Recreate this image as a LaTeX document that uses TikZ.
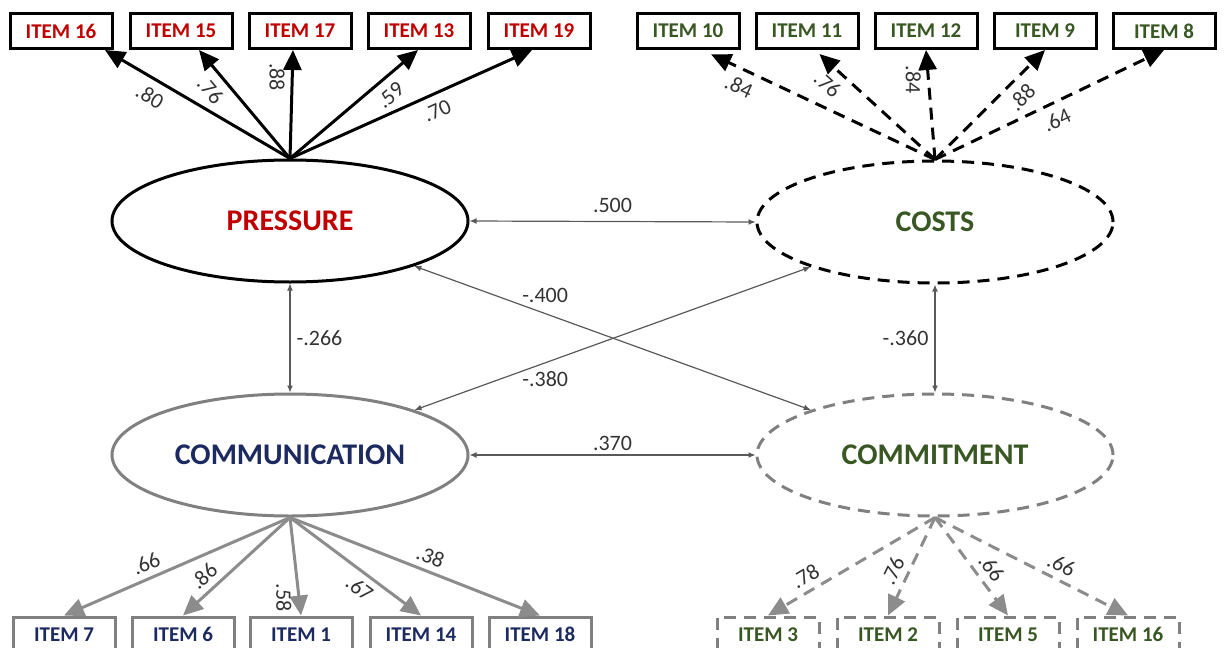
\documentclass[tikz,border=0pt]{standalone}
\usepackage{fontspec}
\setmainfont{Carlito}
\usepackage{tikz}
\usetikzlibrary{shapes.geometric}
\usetikzlibrary{arrows.meta}
\definecolor{presred}{RGB}{192,0,0}
\definecolor{costgreen}{RGB}{56,87,35}
\definecolor{commblue}{RGB}{28,42,96}
\definecolor{commgray}{RGB}{128,128,128}
\definecolor{arrowgray}{RGB}{140,140,140}

\begin{document}
\begin{tikzpicture}[x=0.5pt, y=-0.5pt,
    itembox/.style={draw, rectangle, line width=1.5pt, minimum width=51pt, minimum height=17.5pt, inner sep=0pt, font=\fontsize{10.5}{12}\selectfont\bfseries},
    latent/.style={draw, ellipse, line width=1.5pt, minimum width=178pt, minimum height=61pt, inner sep=0pt, font=\fontsize{15}{18}\selectfont\bfseries},
    dashline/.style={dash pattern=on 6pt off 4pt},
    loading/.style={line width=1.5pt, -{Triangle[length=10pt,width=9pt]}},
    cov/.style={draw=black!65, line width=0.6pt, {Latex[length=3.5pt,width=3pt]}-{Latex[length=3.5pt,width=3pt]}},
    coef/.style={font=\fontsize{11}{13}\selectfont, text=black!80, inner sep=1pt}
    ]

    \useasboundingbox (0,0) rectangle (1224,647);
    \clip (0,0) rectangle (1224,647);

    % latent factors
    \node[latent, draw=black, text=presred] (pres) at (290,221) {PRESSURE};
    \node[latent, draw=black, dashline, text=costgreen] (costs) at (935,222) {COSTS};
    \node[latent, draw=commgray, text=commblue] (comm) at (290,455) {COMMUNICATION};
    \node[latent, draw=commgray, dashline, text=costgreen] (commit) at (935,455) {COMMITMENT};

    % indicators
    \node[itembox, draw=black, text=presred] (p16) at (61,31) {ITEM 16};
    \node[itembox, draw=black, text=presred] (p15) at (181,31) {ITEM 15};
    \node[itembox, draw=black, text=presred] (p17) at (300,31) {ITEM 17};
    \node[itembox, draw=black, text=presred] (p13) at (419,31) {ITEM 13};
    \node[itembox, draw=black, text=presred] (p19) at (539,31) {ITEM 19};

    \node[itembox, draw=black, text=costgreen] (c10) at (688,31) {ITEM 10};
    \node[itembox, draw=black, text=costgreen] (c11) at (807,31) {ITEM 11};
    \node[itembox, draw=black, text=costgreen] (c12) at (926,31) {ITEM 12};
    \node[itembox, draw=black, text=costgreen] (c9) at (1045,31) {ITEM 9};
    \node[itembox, draw=black, text=costgreen] (c8) at (1164,31) {ITEM 8};

    \node[itembox, draw=commgray, text=commblue] (m7) at (64,634.5) {ITEM 7};
    \node[itembox, draw=commgray, text=commblue] (m6) at (183,634.5) {ITEM 6};
    \node[itembox, draw=commgray, text=commblue] (m1) at (301,634.5) {ITEM 1};
    \node[itembox, draw=commgray, text=commblue] (m14) at (421,634.5) {ITEM 14};
    \node[itembox, draw=commgray, text=commblue] (m18) at (540,634.5) {ITEM 18};

    \node[itembox, draw=commgray, dashline, text=costgreen] (t3) at (768,634.5) {ITEM 3};
    \node[itembox, draw=commgray, dashline, text=costgreen] (t2) at (888,634.5) {ITEM 2};
    \node[itembox, draw=commgray, dashline, text=costgreen] (t5) at (1008,634.5) {ITEM 5};
    \node[itembox, draw=commgray, dashline, text=costgreen] (t16) at (1128,634.5) {ITEM 16};

    % loadings
    \draw[loading] (pres.north) -- node[coef, pos=0.71, sloped, below=3pt] {.80} ([xshift=22pt]p16.south);
    \draw[loading] (pres.north) -- node[coef, pos=0.73, sloped, below=3pt] {.76} ([xshift=9pt]p15.south);
    \draw[loading] (pres.north) -- node[coef, pos=0.75, rotate=-90, below=2pt] {.88} ([xshift=-3.5pt]p17.south);
    \draw[loading] (pres.north) -- node[coef, pos=0.70, sloped, below=3pt] {.59} ([xshift=-0.5pt]p13.south);
    \draw[loading] (pres.north) -- node[coef, pos=0.58, sloped, below=3pt] {.70} ([xshift=-3.5pt]p19.south);

    \draw[loading, dashline, shorten >=5pt] (costs.north) -- node[coef, pos=0.81, sloped, below=3pt] {.84} ([xshift=7pt]c10.south);
    \draw[loading, dashline, shorten >=3pt] (costs.north) -- node[coef, pos=0.80, sloped, below=3pt] {.76} ([xshift=4pt]c11.south);
    \draw[loading, dashline] (costs.north) -- node[coef, pos=0.73, rotate=-90, below=2pt] {.84} (c12.south);
    \draw[loading, dashline] (costs.north) -- node[coef, pos=0.68, sloped, below=3pt] {.88} (c9.south);
    \draw[loading, dashline] (costs.north) -- node[coef, pos=0.50, sloped, below=3pt] {.64} (c8.south);

    \draw[loading, arrowgray] (comm.south) -- node[coef, pos=0.61, sloped, above=2pt] {.66} (m7.north);
    \draw[loading, arrowgray] (comm.south) -- node[coef, pos=0.71, sloped, above=2pt] {.86} (m6.north);
    \draw[loading, arrowgray] (comm.south) -- node[coef, pos=0.82, rotate=-90, below=2pt] {.58} (m1.north);
    \draw[loading, arrowgray] (comm.south) -- node[coef, pos=0.60, sloped, below=2pt] {.67} (m14.north);
    \draw[loading, arrowgray] (comm.south) -- node[coef, pos=0.54, sloped, above=2pt] {.38} (m18.north);

    \draw[loading, arrowgray, dashline] (commit.south) -- node[coef, pos=0.73, sloped, above=2pt] {.78} (t3.north);
    \draw[loading, arrowgray, dashline] (commit.south) -- node[coef, pos=0.61, sloped, above=2pt] {.76} (t2.north);
    \draw[loading, arrowgray, dashline] (commit.south) -- node[coef, pos=0.61, sloped, above=2pt] {.66} (t5.north);
    \draw[loading, arrowgray, dashline] (commit.south) -- node[coef, pos=0.62, sloped, above=2pt] {.66} (t16.north);

    % correlations
    \draw[cov] (pres.east) -- node[coef, above=3pt] {.500} (costs.west);
    \draw[cov] (comm.east) -- node[coef, above=1pt] {.370} (commit.west);
    \draw[cov] (pres.south) -- node[coef, right=2pt] {-.266} (comm.north);
    \draw[cov] (costs.south) -- node[coef, left=2pt] {-.360} (commit.north);
    \draw[cov] (pres) -- node[coef, pos=0.33, above=4pt] {-.400} (commit);
    \draw[cov] (costs) -- node[coef, pos=0.67, below=3pt] {-.380} (comm);

\end{tikzpicture}
\end{document}
